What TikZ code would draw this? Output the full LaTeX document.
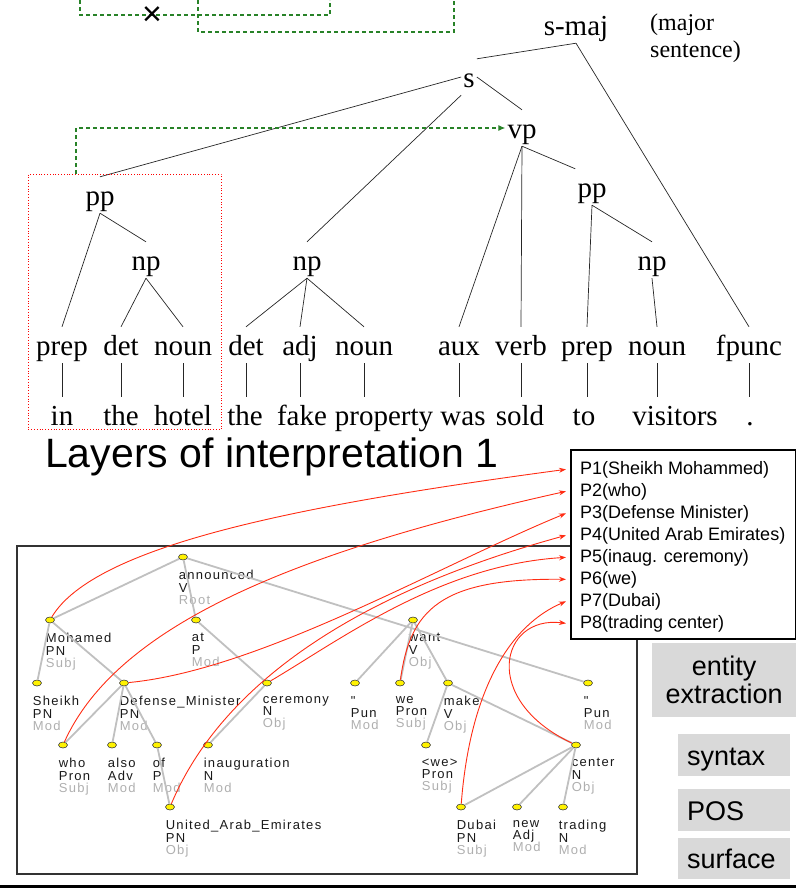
\documentclass[tikz,border=0pt]{standalone}
\usepackage{fontspec}
\setmainfont{Liberation Serif}
\setsansfont{Liberation Sans}
\newfontfamily\depfont[LetterSpace=10]{Liberation Sans}
\usetikzlibrary{shapes.geometric,arrows.meta}
\definecolor{edgegray}{RGB}{192,192,192}
\definecolor{rolegray}{RGB}{175,175,175}
\definecolor{linkred}{RGB}{255,45,20}
\definecolor{hintgreen}{RGB}{40,130,40}
\definecolor{layergray}{RGB}{217,217,217}
\newcommand{\deprole}[1]{\textcolor{rolegray}{#1}}

\begin{document}
\begin{tikzpicture}[
    x=1pt, y=-1pt,
    >={Stealth[length=7pt,width=5pt]},
    % Stile per le categorie dell'albero
    cat/.style={
        font=\fontsize{29}{34}\selectfont,
        anchor=base,
        text height=24pt,
        text depth=4pt,
        inner xsep=2pt,
        inner ysep=4pt
    },
    branch/.style={line width=0.7pt, black!85},
    hint/.style={hintgreen, dash pattern=on 4pt off 3pt, line width=1.1pt},
    % Nodi e archi del grafo delle dipendenze
    dep/.style={
        ellipse,
        draw=black!75,
        fill=yellow,
        line width=0.6pt,
        minimum width=9pt,
        minimum height=6pt,
        inner sep=0pt
    },
    deplbl/.style={
        anchor=north west,
        align=left,
        inner sep=0pt,
        xshift=-1pt,
        yshift=-11pt,
        font=\depfont\fontsize{13}{12.2}\selectfont,
        text=black!90
    },
    depedge/.style={edgegray, line width=1.8pt},
    link/.style={->, linkred, line width=0.9pt},
    pline/.style={
        font=\sffamily\fontsize{18}{22}\selectfont,
        anchor=base west,
        inner xsep=14pt,
        inner ysep=1pt
    },
    layerbox/.style={
        fill=layergray,
        font=\sffamily\fontsize{27}{28}\selectfont,
        anchor=north west,
        inner ysep=0pt
    }
]
    \useasboundingbox (0,0) rectangle (796,889);

    % --- Riquadri tratteggiati in alto ---
    \draw[hint] (80,0) |- (330,15) -- (330,0);
    \draw[hint] (198,0) |- (454,32) -- (454,0);
    \node[font=\sffamily\fontsize{34}{34}\selectfont, inner sep=0pt] (cross) at (152,16) {×};

    % --- Albero sintattico ---
    \node[cat] (smaj) at (576,35) {s-maj};
    \node[font=\fontsize{24}{27}\selectfont, anchor=north west, align=left, inner sep=0pt] (gloss) at (650,14) {(major\\sentence)};
    \node[cat] (s) at (469,87) {s};
    \node[cat] (vp) at (522,138) {vp};
    \node[cat] (ppR) at (592,197) {pp};
    \node[cat] (npR) at (652,270) {np};
    \node[cat] (ppL) at (100,205) {pp};
    \node[cat] (npL) at (146,270) {np};
    \node[cat] (npM) at (307,270) {np};

    % categorie lessicali
    \node[cat] (tPrepA) at (62,355) {prep};
    \node[cat] (tDetA) at (121,355) {det};
    \node[cat] (tNounA) at (183,355) {noun};
    \node[cat] (tDetB) at (246,355) {det};
    \node[cat] (tAdj) at (300,355) {adj};
    \node[cat] (tNounB) at (364,355) {noun};
    \node[cat] (tAux) at (459,355) {aux};
    \node[cat] (tVerb) at (521,355) {verb};
    \node[cat] (tPrepB) at (587,355) {prep};
    \node[cat] (tNounC) at (657,355) {noun};
    \node[cat] (tFpunc) at (749,355) {fpunc};

    % parole
    \node[cat] (wIn) at (62,425) {in};
    \node[cat] (wTheA) at (121,425) {the};
    \node[cat] (wHotel) at (183,425) {hotel};
    \node[cat] (wTheB) at (245,425) {the};
    \node[cat] (wFake) at (302,425) {fake};
    \node[cat] (wProperty) at (384,425) {property};
    \node[cat] (wWas) at (463,425) {was};
    \node[cat] (wSold) at (520,425) {sold};
    \node[cat] (wTo) at (584,425) {to};
    \node[cat] (wVisitors) at (675,425) {visitors};
    \node[cat] (wDot) at (750,425) {.};

    \draw[branch] (smaj.south) -- (s.north east);
    \draw[branch] (smaj.south) -- (tFpunc.north);
    \draw[branch] (s.west) -- (ppL.north);
    \draw[branch] (s.south west) -- (npM.north);
    \draw[branch] (s.east) -- (vp.north);
    \draw[branch] (vp.south) -- (tAux.north);
    \draw[branch] (vp.south) -- (tVerb.north);
    \draw[branch] (vp.south) -- (ppR.north west);
    \draw[branch] (ppR.south) -- (tPrepB.north);
    \draw[branch] (ppR.south) -- (npR.north);
    \draw[branch] (npR.south) -- (tNounC.north);
    \draw[branch] (ppL.south) -- (tPrepA.north);
    \draw[branch] (ppL.south) -- (npL.north);
    \draw[branch] (npL.south) -- (tDetA.north);
    \draw[branch] (npL.south) -- (tNounA.north);
    \draw[branch] (npM.south) -- (tDetB.north);
    \draw[branch] (npM.south) -- (tAdj.north);
    \draw[branch] (npM.south) -- (tNounB.north);

    % categoria -- parola
    \draw[branch] (tPrepA.south) -- (tPrepA.south |- wIn.north);
    \draw[branch] (tDetA.south) -- (tDetA.south |- wTheA.north);
    \draw[branch] (tNounA.south) -- (tNounA.south |- wHotel.north);
    \draw[branch] (tDetB.south) -- (tDetB.south |- wTheB.north);
    \draw[branch] (tAdj.south) -- (tAdj.south |- wFake.north);
    \draw[branch] (tNounB.south) -- (tNounB.south |- wProperty.north);
    \draw[branch] (tAux.south) -- (tAux.south |- wWas.north);
    \draw[branch] (tVerb.south) -- (tVerb.south |- wSold.north);
    \draw[branch] (tPrepB.south) -- (tPrepB.south |- wTo.north);
    \draw[branch] (tNounC.south) -- (tNounC.south |- wVisitors.north);
    \draw[branch] (tFpunc.south) -- (tFpunc.south |- wDot.north);

    % Evidenziatore rosso puntinato e freccia verde
    \node[draw=red, dotted, line width=0.8pt, minimum width=193pt, minimum height=255pt,
        anchor=north west, inner sep=0pt] (ppbox) at (28,174) {};
    \draw[hint, -{Latex[length=7pt,width=6pt]}] ([xshift=48pt]ppbox.north west) |- (vp.west);

    % --- Titolo ---
    \node[font=\sffamily\fontsize{41}{48}\selectfont, anchor=base west, inner sep=0pt] (title) at (45,467) {Layers of interpretation 1};

    % --- Grafo delle dipendenze ---
    \draw[black!80, line width=1.2pt] (17,546) rectangle (637,874);

    \node[dep, label={[deplbl]south west:{announced\\V\\\deprole{Root}}}] (ann) at (183,557) {};
    \node[dep, label={[deplbl]south west:{Mohamed\\PN\\\deprole{Subj}}}] (moh) at (50,620) {};
    \node[dep, label={[deplbl]south west:{at\\P\\\deprole{Mod}}}] (atP) at (196,620) {};
    \node[dep, label={[deplbl]south west:{want\\V\\\deprole{Obj}}}] (want) at (413,620) {};
    \node[dep, label={[deplbl]south west:{Sheikh\\PN\\\deprole{Mod}}}] (sheikh) at (37,683) {};
    \node[dep, label={[deplbl]south west:{Defense\_Minister\\PN\\\deprole{Mod}}}] (defmin) at (124,683) {};
    \node[dep, label={[deplbl]south west:{ceremony\\N\\\deprole{Obj}}}] (cer) at (267,683) {};
    \node[dep, label={[deplbl]south west:{"\\Pun\\\deprole{Mod}}}] (quoteA) at (355,683) {};
    \node[dep, label={[deplbl]south west:{we\\Pron\\\deprole{Subj}}}] (we) at (400,683) {};
    \node[dep, label={[deplbl]south west:{make\\V\\\deprole{Obj}}}] (make) at (448,683) {};
    \node[dep, label={[deplbl]south west:{"\\Pun\\\deprole{Mod}}}] (quoteB) at (588,683) {};
    \node[dep, label={[deplbl]south west:{who\\Pron\\\deprole{Subj}}}] (who) at (63,745) {};
    \node[dep, label={[deplbl]south west:{also\\Adv\\\deprole{Mod}}}] (also) at (112,745) {};
    \node[dep, label={[deplbl]south west:{of\\P\\\deprole{Mod}}}] (ofP) at (157,745) {};
    \node[dep, label={[deplbl]south west:{inauguration\\N\\\deprole{Mod}}}] (inaug) at (208,745) {};
    \node[dep, label={[deplbl]south west:{<we>\\Pron\\\deprole{Subj}}}] (weGap) at (426,745) {};
    \node[dep, label={[deplbl]south west:{center\\N\\\deprole{Obj}}}] (centerN) at (576,745) {};
    \node[dep, label={[deplbl]south west:{United\_Arab\_Emirates\\PN\\\deprole{Obj}}}] (uae) at (170,807) {};
    \node[dep, label={[deplbl]south west:{Dubai\\PN\\\deprole{Subj}}}] (dubai) at (461,807) {};
    \node[dep, label={[deplbl]south west:{new\\Adj\\\deprole{Mod}}}] (new) at (517,807) {};
    \node[dep, label={[deplbl]south west:{trading\\N\\\deprole{Mod}}}] (trading) at (563,807) {};

    \draw[depedge] (ann) -- (moh);
    \draw[depedge] (ann) -- (atP);
    \draw[depedge] (ann) -- (quoteB);
    \draw[depedge] (moh) -- (sheikh);
    \draw[depedge] (moh) -- (defmin);
    \draw[depedge] (atP) -- (cer);
    \draw[depedge] (defmin) -- (who);
    \draw[depedge] (defmin) -- (also);
    \draw[depedge] (defmin) -- (ofP);
    \draw[depedge] (ofP) -- (uae);
    \draw[depedge] (cer) -- (inaug);
    \draw[depedge] (want) -- (quoteA);
    \draw[depedge] (want) -- (we);
    \draw[depedge] (want) -- (make);
    \draw[depedge] (make) -- (weGap);
    \draw[depedge] (make) -- (centerN);
    \draw[depedge] (centerN) -- (dubai);
    \draw[depedge] (centerN) -- (new);
    \draw[depedge] (centerN) -- (trading);

    % --- Entita' estratte ---
    \draw[fill=white, line width=1.2pt] (571,450) rectangle (795.5,639);
    \node[pline] (P1) at (566,474) {P1(Sheikh Mohammed)};
    \node[pline] (P2) at (566,496) {P2(who)};
    \node[pline] (P3) at (566,518) {P3(Defense Minister)};
    \node[pline] (P4) at (566,540) {P4(United Arab Emirates)};
    \node[pline] (P5) at (566,562) {P5(inaug. ceremony)};
    \node[pline] (P6) at (566,584) {P6(we)};
    \node[pline] (P7) at (566,606) {P7(Dubai)};
    \node[pline] (P8) at (566,628) {P8(trading center)};

    \draw[link] (moh) .. controls (95,545) and (300,505) .. (P1.west);
    \draw[link] (who) .. controls (115,630) and (280,555) .. (P2.west);
    \draw[link] (defmin) .. controls (260,670) and (440,565) .. (P3.west);
    \draw[link] (uae) .. controls (215,700) and (330,600) .. (P4.west);
    \draw[link] (cer) .. controls (340,640) and (440,565) .. (P5.west);
    \draw[link] (we) .. controls (410,610) and (440,578) .. (P6.west);
    \draw[link] (dubai) .. controls (470,690) and (510,625) .. (P7.west);
    \draw[link] (centerN) .. controls (480,700) and (500,615) .. (P8.west);

    % --- Livelli ---
    \node[layerbox, align=center, minimum width=144pt, minimum height=74pt] (entity) at (652,643) {entity\\extraction};
    \node[layerbox, text width=94pt, inner xsep=9pt, minimum height=42pt, text height=20pt, text depth=0pt] (syntax) at (678,734) {syntax};
    \node[layerbox, text width=94pt, inner xsep=9pt, minimum height=42pt, text height=20pt, text depth=0pt] (pos) at (678,789) {POS};
    \node[layerbox, text width=94pt, inner xsep=9pt, minimum height=41pt, text height=20pt, text depth=0pt] (surface) at (678,838) {surface};

    \draw[line width=3pt] (0,886.5) -- (796,886.5);

\end{tikzpicture}
\end{document}
